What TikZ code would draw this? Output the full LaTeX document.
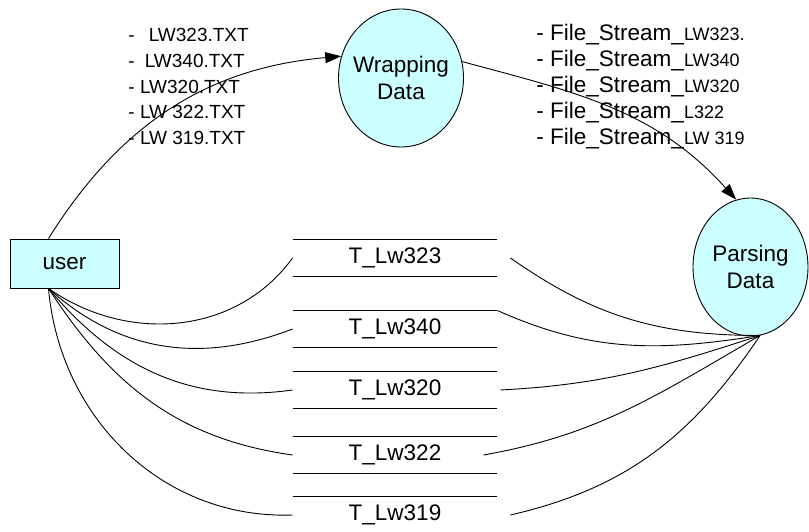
\documentclass[tikz,border=0pt]{standalone}
\usepackage{fontspec}
\setmainfont{Liberation Sans}
\usetikzlibrary{calc,positioning,arrows.meta,shapes}
\definecolor{procfill}{RGB}{204,255,255}

\begin{document}
\begin{tikzpicture}[x=1pt,y=1pt,line width=0.9pt,
    every node/.style={font=\fontsize{22.5}{27}\selectfont},
    proc/.style={ellipse,draw,fill=procfill,inner sep=0pt,minimum height=138pt},
    store/.style={rectangle,inner sep=0pt,minimum width=204pt,minimum height=36pt},
    flow/.style={-{Triangle[length=16pt,width=11pt]}}]
    \useasboundingbox (0,0) rectangle (809,531);

    \node[draw,fill=procfill,inner sep=0pt,minimum width=109pt,minimum height=49pt] (user) at (64.5,267.5) {user};
    \node[proc,minimum width=125pt,label={[align=center]center:Wrapping\\Data}] (wrap) at (401,453) {};
    \node[proc,minimum width=115pt,label={[align=center]center:Parsing\\Data}] (parse) at (750.5,264) {};
    \coordinate (utop) at ([xshift=-16pt]user.north);
    \coordinate (ufoot) at ([xshift=-16pt]user.south);
    \coordinate (pfoot) at (parse.-82);

    % file lists
    \node[anchor=north west,align=left,inner sep=0pt,font=\fontsize{19}{25.75}\selectfont] (srclist) at (128,503)
      {-\hspace{14pt}LW323.TXT\\ -\hspace{10pt}LW340.TXT\\ - LW320.TXT\\ - LW 322.TXT\\ - LW 319.TXT};
    \node[anchor=north west,align=left,inner sep=0pt,font=\fontsize{22.5}{26}\selectfont] (streamlist) at (536,507)
      {- File\_Stream\_{\fontsize{18}{26}\selectfont LW323.}\\
       - File\_Stream\_{\fontsize{18}{26}\selectfont LW340}\\
       - File\_Stream\_{\fontsize{18}{26}\selectfont LW320}\\
       - File\_Stream\_{\fontsize{18}{26}\selectfont L322}\\
       - File\_Stream\_{\fontsize{18}{26}\selectfont LW 319}};

    % tables
    \foreach \s/\y in {323/273,340/202,320/141,322/76,319/16}
      \node[store] (s\s) at (395,\y) {T\_Lw\s};
    \foreach \s in {323,340,320,322,319}
      \draw (s\s.north west) -- (s\s.north east);
    \foreach \s in {323,340,320,322}
      \draw (s\s.south west) -- (s\s.south east);

    \draw[flow] (utop) to[out=58,in=185] (wrap.160);
    \draw[flow] (wrap.15) to[out=-15,in=132] (parse.102);

    \draw (ufoot) to[out=-35,in=234] (s323.west);
    \draw (ufoot) to[out=-42,in=201] (s340.west);
    \draw (ufoot) to[out=-50,in=188] (s320.west);
    \draw (ufoot) to[out=-57,in=172] (s322.west);
    \draw (ufoot) to[out=-85,in=182] (s319.west);

    \draw ([xshift=13pt]s323.east) to[out=-35,in=180] (pfoot);
    \draw (s340.north east) to[out=-24,in=189] (pfoot);
    \draw ([xshift=3pt]s320.east) to[out=3,in=198] (pfoot);
    \draw ([xshift=-14pt]s322.east) to[out=10,in=210] (pfoot);
    \draw ([xshift=13pt]s319.east) to[out=13,in=236] (pfoot);
  \end{tikzpicture}
\end{document}
